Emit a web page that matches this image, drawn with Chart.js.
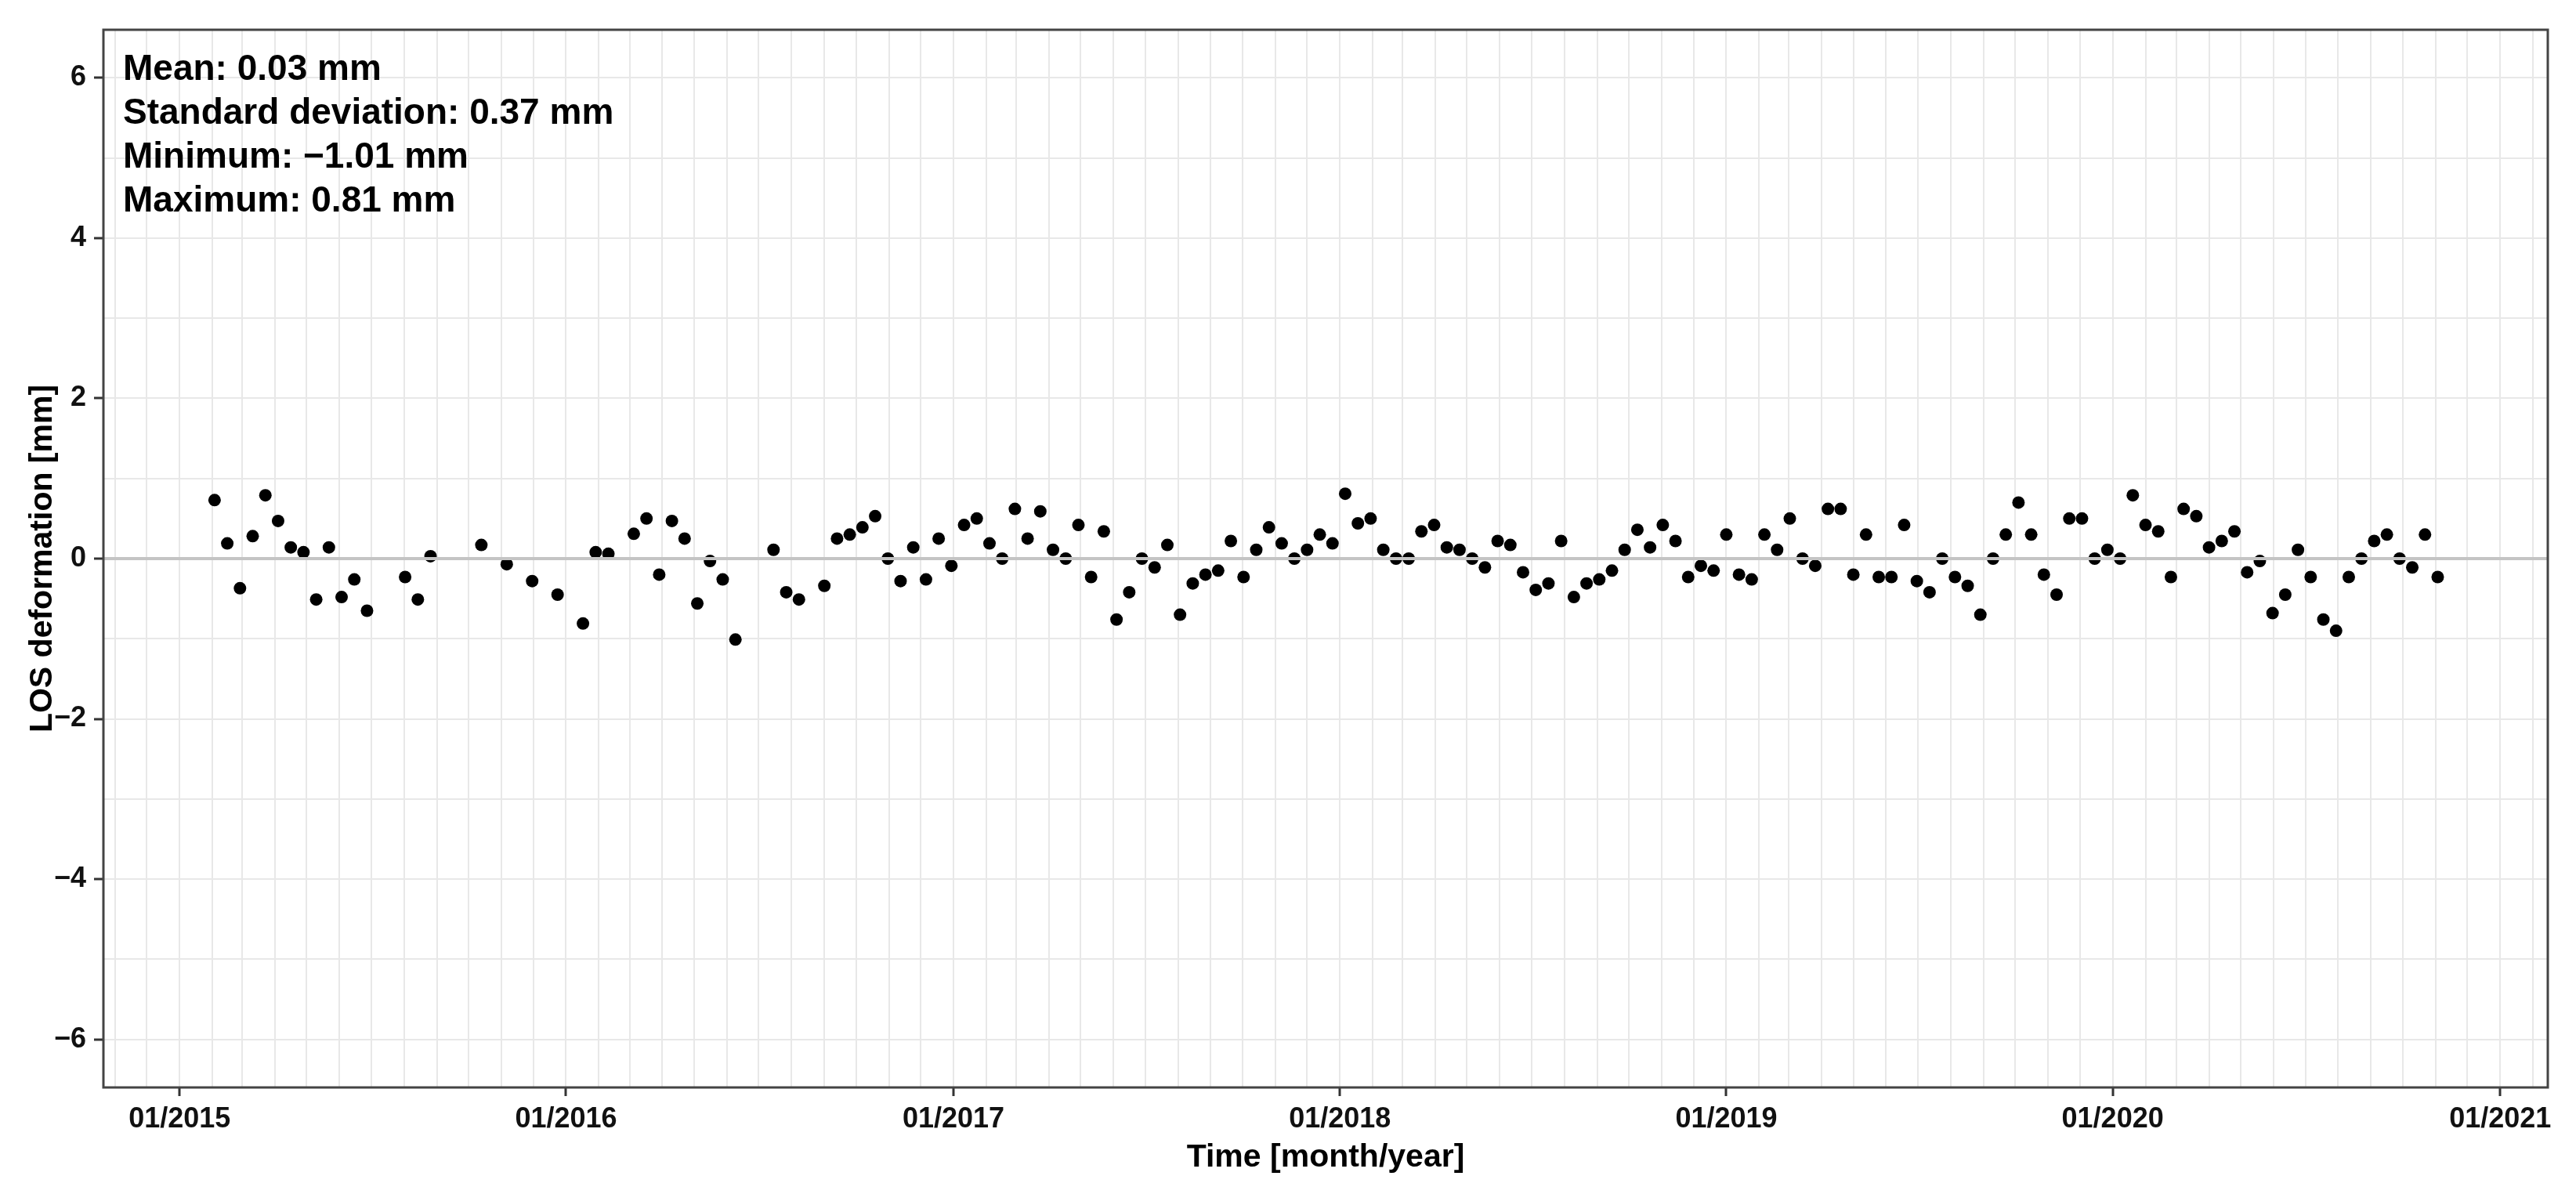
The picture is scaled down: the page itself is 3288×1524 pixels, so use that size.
<!DOCTYPE html>
<html>
<head>
<meta charset="utf-8">
<script src="https://cdn.jsdelivr.net/npm/chart.js@4.4.1/dist/chart.umd.min.js"></script>
<style>
  html, body { margin: 0; padding: 0; background: #ffffff; }
  #wrap { width: 3288px; height: 1524px; }
</style>
</head>
<body>
<div id="wrap"><canvas id="c" width="3288" height="1524" style="width:3288px;height:1524px"></canvas></div>
<script>
// ---- data ----
const acquisitionDates = [
  '2015-02-03','2015-02-15','2015-02-27','2015-03-11','2015-03-23','2015-04-04','2015-04-16','2015-04-28',
  '2015-05-10','2015-05-22','2015-06-03','2015-06-15','2015-06-27','2015-08-02','2015-08-14','2015-08-26',
  '2015-10-13','2015-11-06','2015-11-30','2015-12-24','2016-01-17','2016-01-29','2016-02-10','2016-03-05',
  '2016-03-17','2016-03-29','2016-04-10','2016-04-22','2016-05-04','2016-05-16','2016-05-28','2016-06-09',
  '2016-07-15','2016-07-27','2016-08-08','2016-09-01','2016-09-13','2016-09-25','2016-10-07','2016-10-19',
  '2016-10-31','2016-11-12','2016-11-24','2016-12-06','2016-12-18','2016-12-30','2017-01-11','2017-01-23',
  '2017-02-04','2017-02-16','2017-02-28','2017-03-12','2017-03-24','2017-04-05','2017-04-17','2017-04-29',
  '2017-05-11','2017-05-23','2017-06-04','2017-06-16','2017-06-28','2017-07-10','2017-07-22','2017-08-03',
  '2017-08-15','2017-08-27','2017-09-08','2017-09-20','2017-10-02','2017-10-14','2017-10-26','2017-11-07',
  '2017-11-19','2017-12-01','2017-12-13','2017-12-25','2018-01-06','2018-01-18','2018-01-30','2018-02-11',
  '2018-02-23','2018-03-07','2018-03-19','2018-03-31','2018-04-12','2018-04-24','2018-05-06','2018-05-18',
  '2018-05-30','2018-06-11','2018-06-23','2018-07-05','2018-07-17','2018-07-29','2018-08-10','2018-08-22',
  '2018-09-03','2018-09-15','2018-09-27','2018-10-09','2018-10-21','2018-11-02','2018-11-14','2018-11-26',
  '2018-12-08','2018-12-20','2019-01-01','2019-01-13','2019-01-25','2019-02-06','2019-02-18','2019-03-02',
  '2019-03-14','2019-03-26','2019-04-07','2019-04-19','2019-05-01','2019-05-13','2019-05-25','2019-06-06',
  '2019-06-18','2019-06-30','2019-07-12','2019-07-24','2019-08-05','2019-08-17','2019-08-29','2019-09-10',
  '2019-09-22','2019-10-04','2019-10-16','2019-10-28','2019-11-09','2019-11-21','2019-12-03','2019-12-15',
  '2019-12-27','2020-01-08','2020-01-20','2020-02-01','2020-02-13','2020-02-25','2020-03-08','2020-03-20',
  '2020-04-01','2020-04-13','2020-04-25','2020-05-07','2020-05-19','2020-05-31','2020-06-12','2020-06-24',
  '2020-07-06','2020-07-18','2020-07-30','2020-08-11','2020-08-23','2020-09-04','2020-09-16','2020-09-28',
  '2020-10-10','2020-10-22','2020-11-03'
];
const losDeformation = [
  0.73, 0.19, -0.37, 0.28, 0.79, 0.47, 0.14, 0.08,
  -0.51, 0.14, -0.48, -0.26, -0.65, -0.23, -0.51, 0.03,
  0.17, -0.07, -0.28, -0.45, -0.81, 0.08, 0.06, 0.31,
  0.50, -0.20, 0.47, 0.25, -0.56, -0.03, -0.26, -1.01,
  0.11, -0.42, -0.51, -0.34, 0.25, 0.30, 0.39, 0.53,
  0.00, -0.28, 0.14, -0.26, 0.25, -0.09, 0.42, 0.50,
  0.19, 0.00, 0.62, 0.25, 0.59, 0.11, 0.00, 0.42,
  -0.23, 0.34, -0.76, -0.42, 0.00, -0.11, 0.17, -0.70,
  -0.31, -0.20, -0.15, 0.22, -0.23, 0.11, 0.39, 0.19,
  0.00, 0.11, 0.30, 0.19, 0.81, 0.44, 0.50, 0.11,
  0.00, 0.00, 0.34, 0.42, 0.14, 0.11, 0.00, -0.11,
  0.22, 0.17, -0.17, -0.39, -0.31, 0.22, -0.48, -0.31,
  -0.26, -0.15, 0.11, 0.36, 0.14, 0.42, 0.22, -0.23,
  -0.09, -0.15, 0.30, -0.20, -0.26, 0.30, 0.11, 0.50,
  0.00, -0.09, 0.62, 0.62, -0.20, 0.30, -0.23, -0.23,
  0.42, -0.28, -0.42, 0.00, -0.23, -0.34, -0.70, 0.00,
  0.30, 0.70, 0.30, -0.20, -0.45, 0.50, 0.50, 0.00,
  0.11, 0.00, 0.79, 0.42, 0.34, -0.23, 0.62, 0.53,
  0.14, 0.22, 0.34, -0.17, -0.03, -0.68, -0.45, 0.11,
  -0.23, -0.76, -0.90, -0.23, 0.00, 0.22, 0.30, 0.00,
  -0.11, 0.30, -0.23
];
const xTickLabels = ['01/2015','01/2016','01/2017','01/2018','01/2019','01/2020','01/2021'];
const yTickLabels = [-6, -4, -2, 0, 2, 4, 6];
const statsText = ['Mean: 0.03 mm', 'Standard deviation: 0.37 mm', 'Minimum: \u22121.01 mm', 'Maximum: 0.81 mm'];
const xTitle = 'Time [month/year]';
const yTitle = 'LOS deformation [mm]';
const xRange = ['2014-10-21', '2021-02-15'];
const yRange = [-6.6, 6.6];

// ---- helpers ----
function ts(s) { const p = s.split('-').map(Number); return Date.UTC(p[0], p[1] - 1, p[2]); }
function labelTs(l) { const p = l.split('/').map(Number); return Date.UTC(p[1], p[0] - 1, 1); }
const yearTicks = xTickLabels.map(labelTs);

// monthly grid positions across the axis range
const monthGrid = [];
(function () {
  const a = new Date(ts(xRange[0])), b = ts(xRange[1]);
  let y = a.getUTCFullYear(), m = a.getUTCMonth() + 1;
  while (Date.UTC(y, m, 1) <= b) { monthGrid.push(Date.UTC(y, m, 1)); m++; if (m > 11) { m = 0; y++; } }
})();
const yGrid = [];
for (let v = -6; v <= 6; v++) yGrid.push(v);

const points = acquisitionDates.map((d, i) => ({ x: ts(d), y: losDeformation[i] }));

const FONT = '"Liberation Sans", Arial, Helvetica, sans-serif';

const overlay = {
  id: 'overlay',
  afterDatasetsDraw(chart) {
    const { ctx, chartArea: a, scales } = chart;
    const y0 = scales.y.getPixelForValue(0);
    ctx.save();
    ctx.strokeStyle = '#c4c4c4';
    ctx.lineWidth = 4;
    ctx.beginPath();
    ctx.moveTo(a.left, y0);
    ctx.lineTo(a.right, y0);
    ctx.stroke();
    ctx.strokeStyle = '#444444';
    ctx.lineWidth = 3;
    ctx.strokeRect(a.left, a.top, a.right - a.left, a.bottom - a.top);
    ctx.fillStyle = '#000000';
    ctx.font = 'bold 46px ' + FONT;
    ctx.textAlign = 'left';
    ctx.textBaseline = 'alphabetic';
    statsText.forEach((t, i) => ctx.fillText(t, a.left + 25, a.top + 64 + i * 56));
    ctx.restore();
  }
};

new Chart(document.getElementById('c'), {
  type: 'scatter',
  data: {
    datasets: [{
      data: points,
      pointRadius: 8,
      pointHoverRadius: 8,
      pointBackgroundColor: '#000000',
      pointBorderWidth: 0,
      showLine: false
    }]
  },
  options: {
    responsive: false,
    devicePixelRatio: 1,
    animation: false,
    events: [],
    layout: { padding: { top: 38, right: 36, left: 0, bottom: 0 } },
    plugins: { legend: { display: false }, tooltip: { enabled: false } },
    scales: {
      x: {
        type: 'linear',
        min: ts(xRange[0]),
        max: ts(xRange[1]),
        afterBuildTicks(scale) { scale.ticks = monthGrid.map(v => ({ value: v })); },
        afterFit(scale) { scale.height = 136; },
        ticks: {
          autoSkip: false, maxRotation: 0, minRotation: 0,
          padding: 8,
          color: '#111111',
          font: { family: FONT, size: 36, weight: 'bold' },
          callback(value) { const i = yearTicks.indexOf(value); return i >= 0 ? xTickLabels[i] : ''; }
        },
        grid: {
          color: '#e8e8e8', lineWidth: 2,
          tickLength: 11, tickWidth: 3,
          tickColor: (c) => (c.tick && yearTicks.indexOf(c.tick.value) >= 0) ? '#333333' : 'rgba(0,0,0,0)'
        },
        border: { display: false },
        title: {
          display: true, text: xTitle, color: '#000000',
          font: { family: FONT, size: 41, weight: 'bold' },
          padding: { top: 0, bottom: 22 }
        }
      },
      y: {
        type: 'linear',
        min: yRange[0],
        max: yRange[1],
        afterBuildTicks(scale) { scale.ticks = yGrid.map(v => ({ value: v })); },
        afterFit(scale) { scale.width = 132; },
        ticks: {
          autoSkip: false,
          padding: 10,
          color: '#111111',
          font: { family: FONT, size: 36, weight: 'bold' },
          callback(value) { return yTickLabels.indexOf(value) >= 0 ? String(value).replace('-', '\u2212') : ''; }
        },
        grid: {
          color: '#e8e8e8', lineWidth: 2,
          tickLength: 12, tickWidth: 3,
          tickColor: (c) => (c.tick && yTickLabels.indexOf(c.tick.value) >= 0) ? '#333333' : 'rgba(0,0,0,0)'
        },
        border: { display: false },
        title: {
          display: true, text: yTitle, color: '#000000',
          font: { family: FONT, size: 41, weight: 'bold' },
          padding: { top: 30, bottom: 0 }
        }
      }
    }
  },
  plugins: [overlay]
});
</script>
</body>
</html>
